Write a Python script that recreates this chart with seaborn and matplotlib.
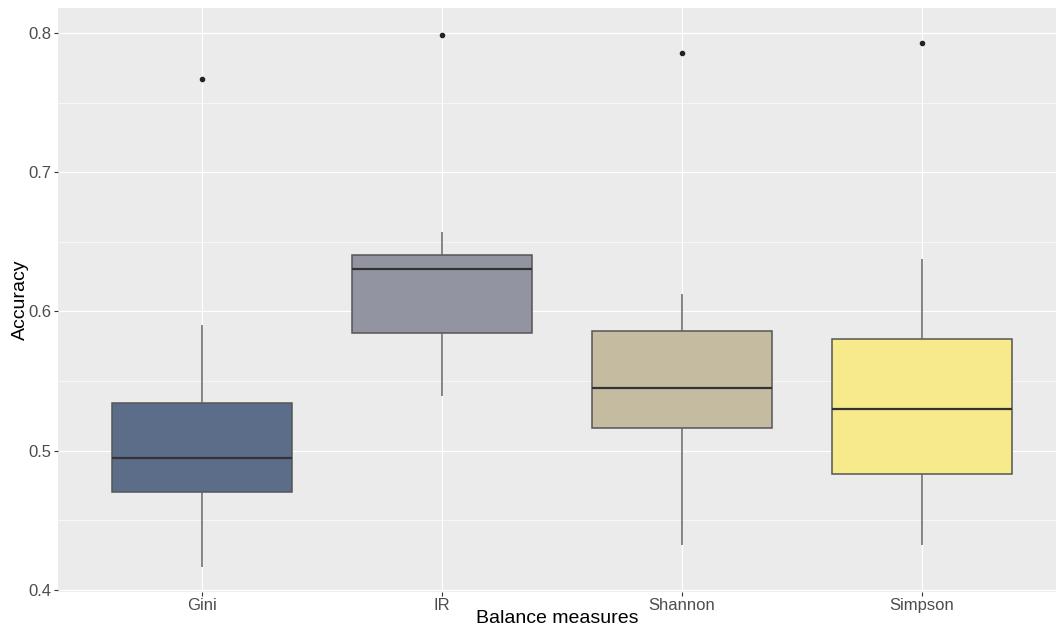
import seaborn as sns
import pandas as pd
import matplotlib.pyplot as plt
from matplotlib.ticker import MultipleLocator, FormatStrFormatter

plt.rcParams['font.family'] = ['Liberation Sans', 'DejaVu Sans']

medidas = ['Gini', 'IR', 'Shannon', 'Simpson']
gini = [0.4165, 0.450, 0.4705, 0.480, 0.495, 0.510, 0.5340, 0.5906, 0.767]
ir = [0.5396, 0.560, 0.5842, 0.610, 0.6302, 0.635, 0.6403, 0.6570, 0.7986]
shannon = [0.4320, 0.490, 0.5165, 0.530, 0.5453, 0.560, 0.5863, 0.6126, 0.786]
simpson = [0.4320, 0.460, 0.4835, 0.500, 0.5302, 0.550, 0.5799, 0.6380, 0.7928]
cores = ['#5b6d89', '#9294a2', '#c4bba0', '#f6ea8a']

dados = pd.DataFrame({
    'Balance measures': sum([[m] * 9 for m in medidas], []),
    'Accuracy': gini + ir + shannon + simpson,
})

fig = plt.figure(figsize=(10.56, 6.28), dpi=100)
ax = fig.add_axes([58 / 1056, 36 / 628, 998 / 1056, 584 / 628])
ax.set_facecolor('#EBEBEB')
ax.set_axisbelow(True)

sns.boxplot(data=dados, x='Balance measures', y='Accuracy', hue='Balance measures',
            palette=cores, saturation=1, width=0.75, showcaps=False, ax=ax,
            linewidth=1.1, fliersize=3,
            boxprops={'edgecolor': '#555555'},
            whiskerprops={'color': '#666666'},
            medianprops={'color': '#333333', 'linewidth': 1.6},
            flierprops={'marker': 'o', 'markerfacecolor': '#222222',
                        'markeredgecolor': '#222222'})

ax.set_xlim(-0.6, 3.56)
ax.set_ylim(0.3985, 0.818)
ax.yaxis.set_major_locator(MultipleLocator(0.1))
ax.yaxis.set_minor_locator(MultipleLocator(0.05))
ax.yaxis.set_major_formatter(FormatStrFormatter('%.1f'))
ax.grid(which='major', color='white', linewidth=0.9)
ax.grid(which='minor', axis='y', color='white', linewidth=0.45)
ax.tick_params(which='minor', length=0)
ax.tick_params(which='major', length=3, color='#333333', labelcolor='#4d4d4d',
               labelsize=12, pad=1.5)
for s in ax.spines.values():
    s.set_visible(False)

ax.set_xlabel('Balance measures', fontsize=14, color='black')
ax.set_ylabel('Accuracy', fontsize=14, color='black')
ax.xaxis.set_label_coords(0.5, -0.031)
ax.yaxis.set_label_coords(-0.029, 0.5)

plt.savefig('out.png', dpi=100)
